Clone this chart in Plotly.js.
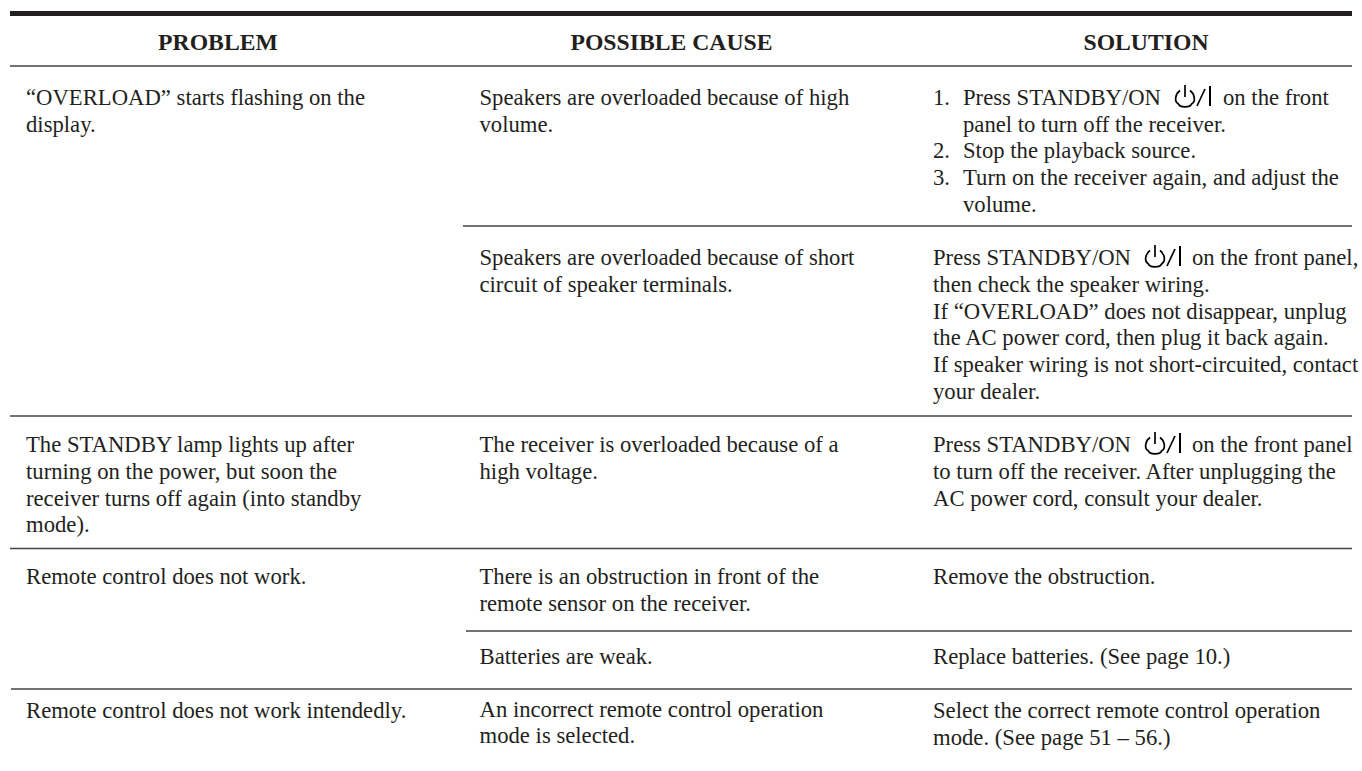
<!DOCTYPE html>
<html><head><meta charset="utf-8">
<script src="https://cdn.plot.ly/plotly-3.0.1.min.js"></script>
<style>html,body{margin:0;padding:0;background:#fff}</style></head>
<body><div id="c" style="width:1362px;height:771px"></div>
<script>
const headers = ["PROBLEM","POSSIBLE CAUSE","SOLUTION"];
const headerX = [218,671.5,1146];
const headerY = [44,44,44];
const textLines = [
 ["“OVERLOAD” starts flashing on the",26,97],
 ["display.",26,124],
 ["Speakers are overloaded because of high",479.5,97],
 ["volume.",479.5,124],
 ["1.",933,97],
 ["Press STANDBY/ON",963,97],
 ["on the front",1223,97],
 ["panel to turn off the receiver.",963,124],
 ["2.",933,150],
 ["Stop the playback source.",963,150],
 ["3.",933,177],
 ["Turn on the receiver again, and adjust the",963,177],
 ["volume.",963,204],
 ["Speakers are overloaded because of short",479.5,257],
 ["circuit of speaker terminals.",479.5,284],
 ["Press STANDBY/ON",933,257],
 ["on the front panel,",1192,257],
 ["then check the speaker wiring.",933,284],
 ["If “OVERLOAD” does not disappear, unplug",933,311],
 ["the AC power cord, then plug it back again.",933,337],
 ["If speaker wiring is not short-circuited, contact",933,364],
 ["your dealer.",933,391],
 ["The STANDBY lamp lights up after",26,444],
 ["turning on the power, but soon the",26,471],
 ["receiver turns off again (into standby",26,498],
 ["mode).",26,524],
 ["The receiver is overloaded because of a",479.5,444],
 ["high voltage.",479.5,471],
 ["Press STANDBY/ON",933,444],
 ["on the front panel",1192,444],
 ["to turn off the receiver. After unplugging the",933,471],
 ["AC power cord, consult your dealer.",933,498],
 ["Remote control does not work.",26,576],
 ["There is an obstruction in front of the",479.5,576],
 ["remote sensor on the receiver.",479.5,603],
 ["Remove the obstruction.",933,576],
 ["Batteries are weak.",479.5,656],
 ["Replace batteries. (See page 10.)",933,656],
 ["Remote control does not work intendedly.",26,710],
 ["An incorrect remote control operation",479.5,709.5],
 ["mode is selected.",479.5,735],
 ["Select the correct remote control operation",933,710],
 ["mode. (See page 51 – 56.)",933,737]
];
const rules = [[10,1352,66],[463,1352,226],[10,1352,416],[10,1352,548.5],[466,1352,631],[11,1352,689]];
const powerIcons = [[1185,98],[1155,258],[1155,445]];
const INK = "#231f20";
const textShift = 2.3;
const font = {family:"Liberation Serif", size:22.7, color:INK};
const headFont = {family:"Liberation Serif", size:23.7, color:INK};
const iconStroke = {color:"#000",width:1.7};
const traces = [
 {type:"scatter",mode:"text",x:headerX,y:headerY,text:headers.map(h=>"<b>"+h+"</b>"),textposition:"middle center",textfont:headFont,hoverinfo:"skip"},
 {type:"scatter",mode:"text",x:textLines.map(l=>l[1]),y:textLines.map(l=>l[2]+textShift),text:textLines.map(l=>l[0]),textposition:"middle right",textfont:font,hoverinfo:"skip"}
];
const shapes = [{type:"rect",x0:10,x1:1352,y0:11,y1:16,fillcolor:INK,line:{width:0}}];
rules.forEach(r=>shapes.push({type:"line",x0:r[0],x1:r[1],y0:r[2],y1:r[2],line:{color:"#444",width:1.4}}));
powerIcons.forEach(p=>{
 const cx=p[0],cy=p[1],r=9,k=r*0.5523;
 const sx=cx-r*0.55,sy=cy-r*0.83;
 const ex=cx+r*0.55;
 const arc=`M ${sx} ${sy} C ${cx-r*1.05} ${cy-r*0.5} ${cx-r*1.25} ${cy+r*0.35} ${cx-r*0.75} ${cy+r*0.65}`+
  ` C ${cx-k} ${cy+r*1.1} ${cx+k} ${cy+r*1.1} ${cx+r*0.75} ${cy+r*0.65}`+
  ` C ${cx+r*1.25} ${cy+r*0.35} ${cx+r*1.05} ${cy-r*0.5} ${ex} ${sy}`;
 shapes.push({type:"path",path:arc,line:iconStroke});
 shapes.push({type:"line",x0:cx,x1:cx,y0:cy-13,y1:cy-1,line:iconStroke});
 shapes.push({type:"line",x0:cx+12,x1:cx+20,y0:cy+8,y1:cy-9,line:iconStroke});
 shapes.push({type:"line",x0:cx+25,x1:cx+25,y0:cy-12,y1:cy+8,line:{color:"#000",width:2}});
});
Plotly.newPlot("c",traces,{
 width:1362,height:771,margin:{l:0,r:0,t:0,b:0},showlegend:false,
 paper_bgcolor:"#fff",plot_bgcolor:"#fff",
 xaxis:{range:[0,1362],visible:false,fixedrange:true},
 yaxis:{range:[771,0],visible:false,fixedrange:true},
 shapes
},{staticPlot:true,displayModeBar:false});
</script></body></html>
